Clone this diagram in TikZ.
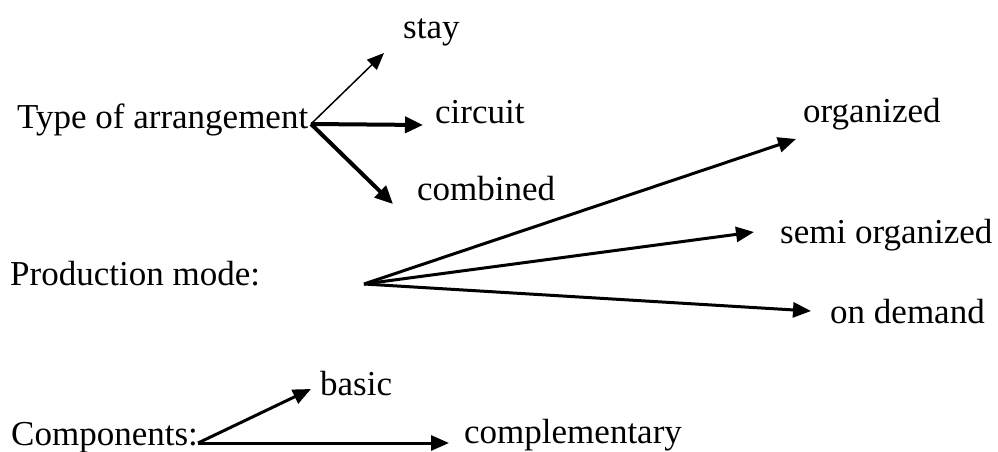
\documentclass[tikz,border=0pt]{standalone}
\usepackage{fontspec}
\setmainfont{Liberation Serif}
\newfontfamily\lserif{Liberation Serif}
\usetikzlibrary{arrows.meta}
\begin{document}
\begin{tikzpicture}[x=1pt,y=-1pt,
  lbl/.style={anchor=base west,inner sep=0pt,font=\lserif\fontsize{35}{40}\selectfont},
  arrthin/.style={line width=1.5pt,-{Triangle[length=17pt,width=14pt]}},
  arrmid/.style={line width=3pt,-{Triangle[length=18pt,width=15pt]}},
  arrthick/.style={line width=4pt,-{Triangle[length=18pt,width=16pt]}}]
\useasboundingbox (0,0) rectangle (998,452);
\fill[white] (0,0) rectangle (998,452);
% labels
\node[lbl] (type) at (17,128) {Type of arrangement};
\node[lbl] (stay) at (403,38) {stay};
\node[lbl] (circuit) at (435,123) {circuit};
\node[lbl] (combined) at (417,200) {combined};
\node[lbl] (prod) at (10,285) {Production mode:};
\node[lbl] (org) at (803,122) {organized};
\node[lbl] (semi) at (780,243) {semi organized};
\node[lbl] (demand) at (830,323) {on demand};
\node[lbl] (comp) at (11,445) {Components:};
\node[lbl] (basic) at (320,395) {basic};
\node[lbl] (compl) at (464,443) {complementary};
% hubs and tips
\coordinate (typeHub) at (311,124);
\coordinate (stayTip) at (384,53);
\coordinate (circTip) at (423,125);
\coordinate (combTip) at (393,204);
\coordinate (prodHub) at (364,284);
\coordinate (orgTip) at (796,139);
\coordinate (semiTip) at (754,232);
\coordinate (demTip) at (811,311);
\coordinate (compHub) at (198,443);
\coordinate (basicTip) at (311,389);
\coordinate (complTip) at (449,443);
% arrows
\draw[arrthin] (typeHub) -- (stayTip);
\draw[arrthick] (typeHub) -- (circTip);
\draw[arrthick] (typeHub) -- (combTip);
\draw[arrmid] (prodHub) -- (orgTip);
\draw[arrmid] (prodHub) -- (semiTip);
\draw[arrmid] (prodHub) -- (demTip);
\draw[arrmid] (compHub) -- (basicTip);
\draw[arrmid] (compHub) -- (complTip);
\end{tikzpicture}
\end{document}
